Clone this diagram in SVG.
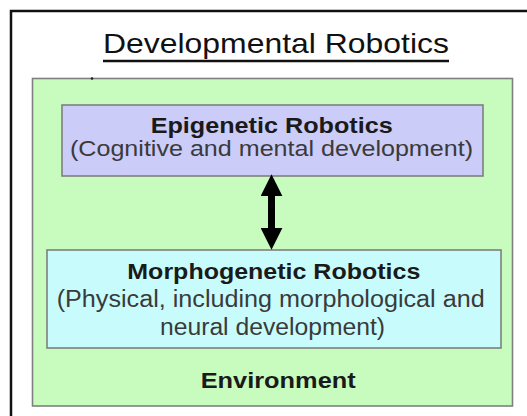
<svg xmlns="http://www.w3.org/2000/svg" width="527" height="416" viewBox="0 0 527 416">
  <defs>
    <style>
      .t { font-family: "Liberation Sans", Arial, sans-serif; }
      .b { font-weight: bold; fill: #1a1a1a; }
      .r { fill: #3a3a3a; }
      .box { stroke: #7f7f7f; stroke-width: 1.6; }
    </style>
    <marker id="head" markerUnits="userSpaceOnUse" markerWidth="22" markerHeight="22" viewBox="0 0 21 21" refX="6" refY="10.5" orient="auto-start-reverse">
      <path d="M0,0 L21,10.5 L0,21 z" fill="#000"/>
    </marker>
  </defs>
  <rect x="0" y="0" width="527" height="416" fill="#ffffff"/>
  <g id="frame">
    <rect x="11" y="11" width="540" height="440" fill="none" stroke="#111" stroke-width="2.5"/>
  </g>
  <g id="title">
    <text class="t" x="103" y="52.5" font-size="28" fill="#111" textLength="346" lengthAdjust="spacingAndGlyphs">Developmental Robotics</text>
    <line x1="103" y1="61" x2="449" y2="61" stroke="#111" stroke-width="2.5"/>
  </g>
  <g id="environment">
    <rect class="box" x="32.5" y="78.5" width="480" height="327.5" fill="#c8fcbf"/>
    <circle cx="92" cy="78.5" r="1.3" fill="#222"/>
    <text class="t b" x="200.7" y="387.7" font-size="22" textLength="155" lengthAdjust="spacingAndGlyphs">Environment</text>
  </g>
  <g id="epigenetic">
    <rect class="box" x="62" y="105" width="421" height="71" fill="#ccccf8"/>
    <text class="t b" x="150.7" y="132.5" font-size="22.5" textLength="242" lengthAdjust="spacingAndGlyphs">Epigenetic Robotics</text>
    <text class="t r" x="70" y="155.5" font-size="22.5" textLength="403" lengthAdjust="spacingAndGlyphs">(Cognitive and mental development)</text>
  </g>
  <g id="morphogenetic">
    <rect class="box" x="47" y="250" width="454" height="98" fill="#c8fcfc"/>
    <text class="t b" x="127.3" y="278.5" font-size="22" textLength="293" lengthAdjust="spacingAndGlyphs">Morphogenetic Robotics</text>
    <text class="t r" x="56.7" y="306.5" font-size="23" textLength="428" lengthAdjust="spacingAndGlyphs">(Physical, including morphological and</text>
    <text class="t r" x="160" y="335" font-size="23" textLength="225" lengthAdjust="spacingAndGlyphs">neural development)</text>
  </g>
  <g id="connectors">
    <line x1="271.5" y1="190" x2="271.5" y2="234" stroke="#000" stroke-width="7" marker-start="url(#head)" marker-end="url(#head)"/>
  </g>
</svg>
